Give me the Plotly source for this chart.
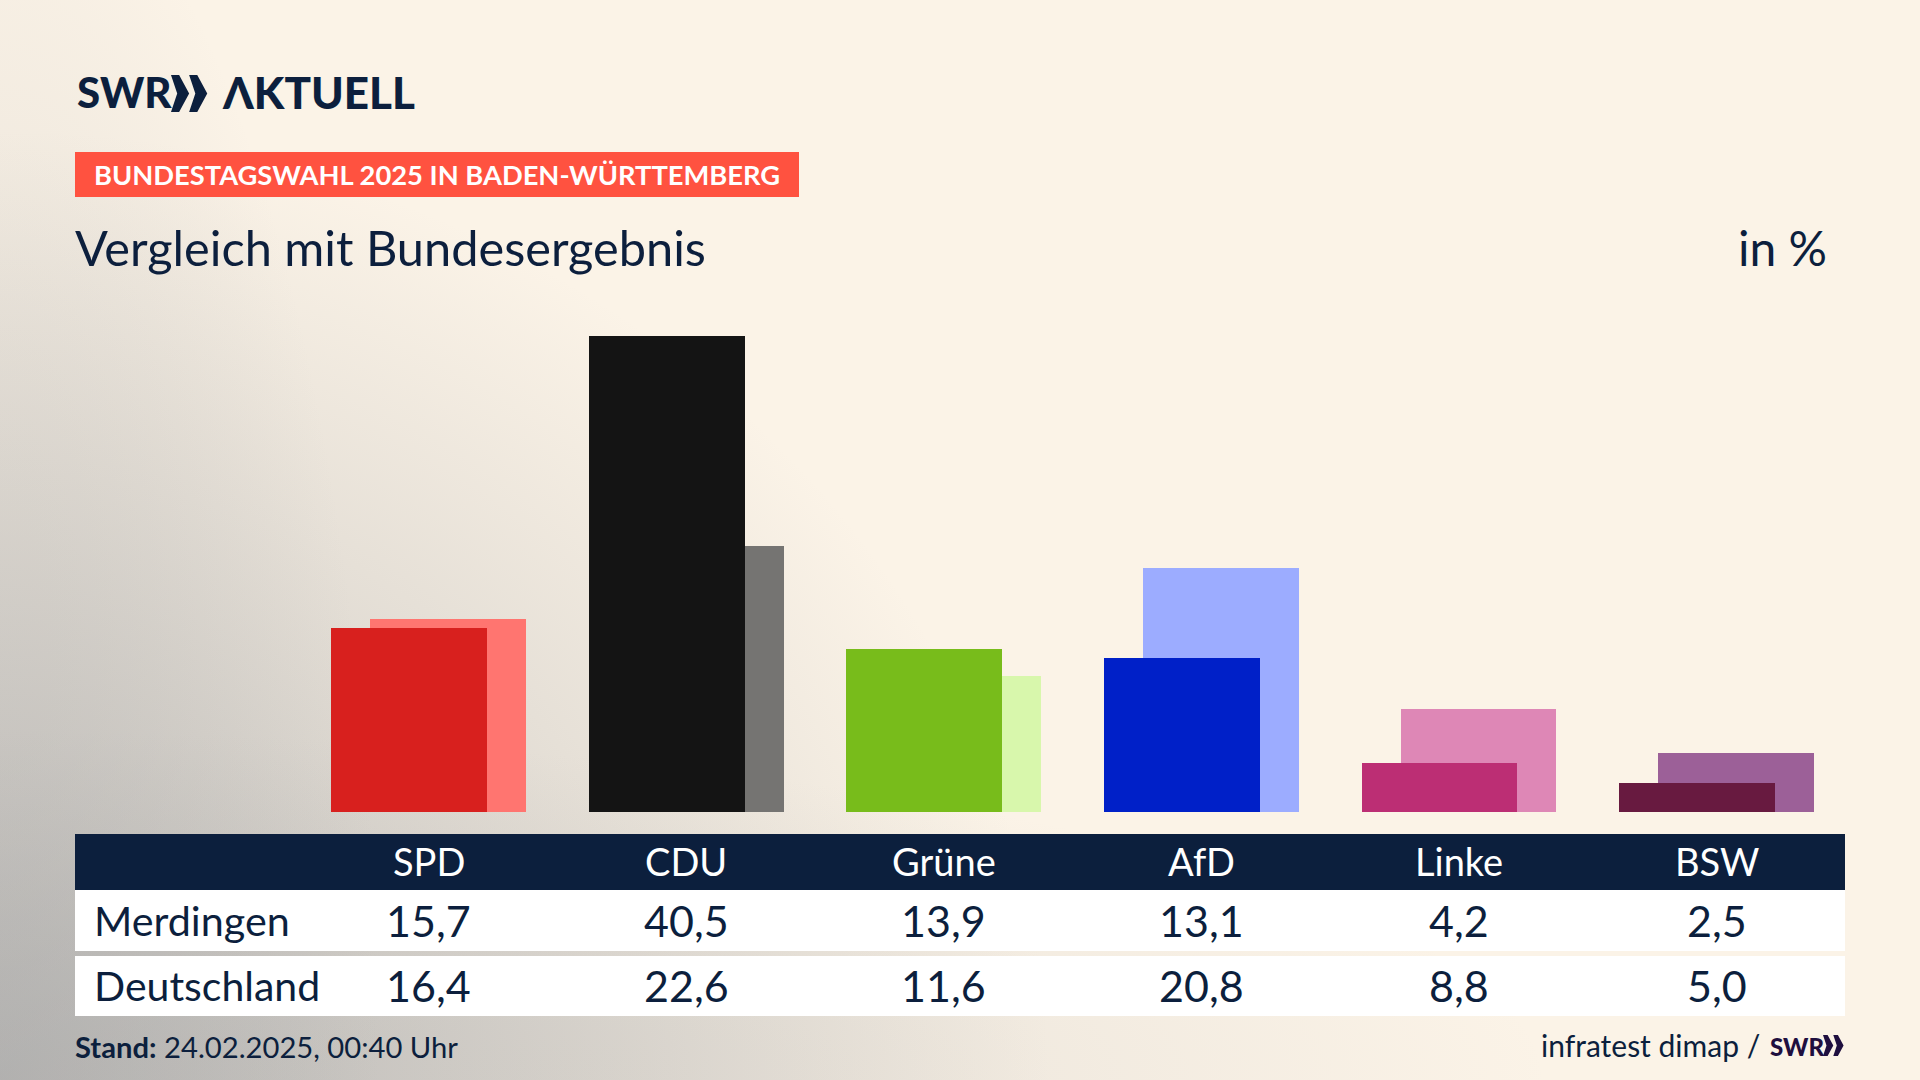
import plotly.graph_objects as go

# Daten
parteien = ["SPD", "CDU", "Grüne", "AfD", "Linke", "BSW"]
merdingen = [15.7, 40.5, 13.9, 13.1, 4.2, 2.5]
deutschland = [16.4, 22.6, 11.6, 20.8, 8.8, 5.0]
merdingen_txt = ["15,7", "40,5", "13,9", "13,1", "4,2", "2,5"]
deutschland_txt = ["16,4", "22,6", "11,6", "20,8", "8,8", "5,0"]
farben_merdingen = ["#D8201E", "#141414", "#78BC1B", "#0020C8", "#BC2E74", "#681A40"]
farben_deutschland = ["#FF7570", "#757472", "#D8F7AC", "#9CACFF", "#DE87B6", "#9C6098"]

W, H = 1920, 1080
NAVY = "#0C1F3D"
SCHRIFT = "Lato"


def py(y):
    return 1 - y / H


def px(x):
    return x / W


def rechteck(x0, y0, x1, y1, farbe):
    return dict(type="rect", xref="paper", yref="paper", x0=px(x0), x1=px(x1),
                y0=py(y1), y1=py(y0), fillcolor=farbe, line_width=0, layer="below")


def text(x, y, t, size, farbe=NAVY, weight=400, anchor="left", xref="paper"):
    return dict(x=px(x) if xref == "paper" else x, y=py(y), xref=xref, yref="paper", text=t,
                showarrow=False, xanchor=anchor, yanchor="middle",
                font=dict(size=size, color=farbe, family=SCHRIFT, weight=weight))


def pfeile(x, y, hoehe, farbe):
    # die beiden Winkel im SWR-Logo
    b = hoehe * 0.27
    d = hoehe * 0.22
    res = []
    for dx in (0, hoehe * 0.49):
        pts = [(x + dx, y), (x + dx + d, y), (x + dx + d + b, y + hoehe / 2),
               (x + dx + d, y + hoehe), (x + dx, y + hoehe), (x + dx + b * 0.62, y + hoehe / 2)]
        p = "M " + " L ".join(f"{px(a):.5f},{py(c):.5f}" for a, c in pts) + " Z"
        res.append(dict(type="path", xref="paper", yref="paper", path=p, fillcolor=farbe, line_width=0))
    return res


def verlauf(name, breite, hoehe, a):
    return (f"<radialGradient id='{name}' gradientUnits='userSpaceOnUse' cx='0' cy='0' r='1' "
            f"gradientTransform='translate(0 1080) scale({breite} {hoehe})'>"
            f"<stop offset='0' stop-color='%23A8A8A8' stop-opacity='{a}'/>"
            f"<stop offset='1' stop-color='%23A8A8A8' stop-opacity='0'/></radialGradient>")


hintergrund = (
    "data:image/svg+xml;utf8,"
    "<svg xmlns='http://www.w3.org/2000/svg' width='1920' height='1080'><defs>"
    + verlauf("u", 1550, 350, 0.35) + verlauf("l", 380, 1250, 0.4) + verlauf("m", 1050, 950, 0.7)
    + "</defs><rect width='1920' height='1080' fill='%23FBF3E7'/>"
    "<rect width='1920' height='1080' fill='url(%23m)'/>"
    "<rect width='1920' height='1080' fill='url(%23u)'/>"
    "<rect width='1920' height='1080' fill='url(%23l)'/></svg>"
)

fig = go.Figure()
# Bundesergebnis hinten, leicht versetzt
fig.add_trace(go.Bar(x=parteien, y=deutschland, name="Deutschland", marker_color=farben_deutschland,
                     marker_line_width=0, width=0.6048, offset=-0.2267))
fig.add_trace(go.Bar(x=parteien, y=merdingen, name="Merdingen", marker_color=farben_merdingen,
                     marker_line_width=0, width=0.6048, offset=-0.3781))

shapes = [
    rechteck(75, 152, 799, 197, "#FF5240"),
    rechteck(75, 834, 1845, 890, NAVY),
    rechteck(75, 890, 1845, 951, "#FFFFFF"),
    rechteck(75, 956, 1845, 1016, "#FFFFFF"),
]
shapes += pfeile(171, 75, 37, NAVY)
shapes += pfeile(1823, 1035, 21, "#1F0F3F")

annots = [
    text(75, 92, "SWR", 42, weight=900),
    text(220, 92, "ΛKTUELL", 44, weight=900),
    text(92, 175, "BUNDESTAGSWAHL 2025 IN BADEN-WÜRTTEMBERG", 27.3, "#FFFFFF", weight=700),
    text(73, 247, "Vergleich mit Bundesergebnis", 48.7),
    text(1829, 247, "in %", 48, anchor="right"),
    text(92, 920, "Merdingen", 41.3),
    text(92, 985.5, "Deutschland", 41),
    text(73, 1046, "<b>Stand:</b> 24.02.2025, 00:40 Uhr", 29.2),
    text(1762, 1045, "infratest dimap /", 30, anchor="right"),
    text(1768, 1046, "SWR", 24, "#1F0F3F", weight=900),
]
for i, p in enumerate(parteien):
    annots.append(text(p, 861, p, 38, "#FFFFFF", anchor="center", xref="x"))
    annots.append(text(p, 920, merdingen_txt[i], 43, anchor="center", xref="x"))
    annots.append(text(p, 985.5, deutschland_txt[i], 43, anchor="center", xref="x"))

fig.update_layout(
    width=W, height=H, autosize=False,
    margin=dict(l=0, r=0, t=0, b=0),
    paper_bgcolor="rgba(0,0,0,0)", plot_bgcolor="rgba(0,0,0,0)",
    barmode="overlay", showlegend=False, bargap=0,
    xaxis=dict(domain=[0, 1], range=[-1.6638, 5.7896], type="category", categoryorder="array",
               categoryarray=parteien, visible=False, fixedrange=True),
    yaxis=dict(domain=[py(812), py(282.9)], range=[0, 45], visible=False, fixedrange=True),
    shapes=shapes, annotations=annots,
    images=[dict(source=hintergrund, xref="paper", yref="paper", x=0, y=1, sizex=1, sizey=1,
                 sizing="stretch", xanchor="left", yanchor="top", layer="below")],
)

fig.write_html("out.html", config=dict(displayModeBar=False),
               post_script="document.body.style.margin='0';document.body.style.overflow='hidden';")
